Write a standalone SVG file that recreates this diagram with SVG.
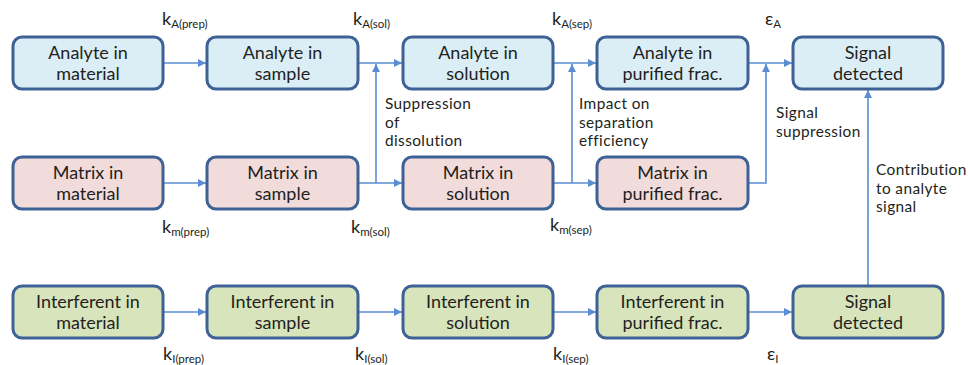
<svg xmlns="http://www.w3.org/2000/svg" width="968" height="365" viewBox="0 0 968 365">
<style>
.box{stroke:#3e6196;stroke-width:3}
.a{fill:#dbeef6}
.m{fill:#f2dcdb}
.i{fill:#d8e4bc}
.t{font-family:Lato,"Open Sans",sans-serif;font-size:18px;fill:#231f20;text-anchor:middle}
.l{font-family:Lato,"Open Sans",sans-serif;font-size:15.4px;letter-spacing:0.4px;fill:#231f20}
.k{font-family:Lato,"Open Sans",sans-serif;font-size:18px;fill:#231f20}
.s{font-size:11.5px}
.c{fill:none;stroke:#5b8dd3;stroke-width:1.6}
</style>
<defs>
<marker id="ar" viewBox="0 0 10 10" refX="10" refY="5" markerWidth="8" markerHeight="8" markerUnits="userSpaceOnUse" orient="auto">
<path d="M0,0 L10,5 L0,10 z" fill="#5b8dd3"/>
</marker>
</defs>
<rect width="968" height="365" fill="#fff"/>
<g id="connectors">
<path class="c" d="M163,63 H206" marker-end="url(#ar)"/>
<path class="c" d="M358,63 H402" marker-end="url(#ar)"/>
<path class="c" d="M553,63 H596" marker-end="url(#ar)"/>
<path class="c" d="M748,63 H792" marker-end="url(#ar)"/>
<path class="c" d="M163,183 H206" marker-end="url(#ar)"/>
<path class="c" d="M358,183 H402" marker-end="url(#ar)"/>
<path class="c" d="M553,183 H596" marker-end="url(#ar)"/>
<path class="c" d="M376,183 V64" marker-end="url(#ar)"/>
<path class="c" d="M572,183 V64" marker-end="url(#ar)"/>
<path class="c" d="M748,183 H766 V64" marker-end="url(#ar)"/>
<path class="c" d="M163,312 H206" marker-end="url(#ar)"/>
<path class="c" d="M358,312 H402" marker-end="url(#ar)"/>
<path class="c" d="M553,312 H596" marker-end="url(#ar)"/>
<path class="c" d="M748,312 H792" marker-end="url(#ar)"/>
<path class="c" d="M868,286 V90" marker-end="url(#ar)"/>
</g>
<g id="n-a1"><rect class="box a" x="13" y="37" width="150" height="52" rx="9"/><text class="t" x="88" y="59">Analyte in</text><text class="t" x="88" y="80">material</text></g>
<g id="n-a2"><rect class="box a" x="207" y="37" width="151" height="52" rx="9"/><text class="t" x="282.5" y="59">Analyte in</text><text class="t" x="282.5" y="80">sample</text></g>
<g id="n-a3"><rect class="box a" x="403" y="37" width="150" height="52" rx="9"/><text class="t" x="478" y="59">Analyte in</text><text class="t" x="478" y="80">solution</text></g>
<g id="n-a4"><rect class="box a" x="597" y="37" width="151" height="52" rx="9"/><text class="t" x="672.5" y="59">Analyte in</text><text class="t" x="672.5" y="80">purified frac.</text></g>
<g id="n-a5"><rect class="box a" x="793" y="37" width="150" height="52" rx="9"/><text class="t" x="868" y="59">Signal</text><text class="t" x="868" y="80">detected</text></g>
<g id="n-m1"><rect class="box m" x="13" y="157" width="150" height="52" rx="9"/><text class="t" x="88" y="179">Matrix in</text><text class="t" x="88" y="200">material</text></g>
<g id="n-m2"><rect class="box m" x="207" y="157" width="151" height="52" rx="9"/><text class="t" x="282.5" y="179">Matrix in</text><text class="t" x="282.5" y="200">sample</text></g>
<g id="n-m3"><rect class="box m" x="403" y="157" width="150" height="52" rx="9"/><text class="t" x="478" y="179">Matrix in</text><text class="t" x="478" y="200">solution</text></g>
<g id="n-m4"><rect class="box m" x="597" y="157" width="151" height="52" rx="9"/><text class="t" x="672.5" y="179">Matrix in</text><text class="t" x="672.5" y="200">purified frac.</text></g>
<g id="n-i1"><rect class="box i" x="13" y="286" width="150" height="52" rx="9"/><text class="t" x="88" y="308">Interferent in</text><text class="t" x="88" y="329">material</text></g>
<g id="n-i2"><rect class="box i" x="207" y="286" width="151" height="52" rx="9"/><text class="t" x="282.5" y="308">Interferent in</text><text class="t" x="282.5" y="329">sample</text></g>
<g id="n-i3"><rect class="box i" x="403" y="286" width="150" height="52" rx="9"/><text class="t" x="478" y="308">Interferent in</text><text class="t" x="478" y="329">solution</text></g>
<g id="n-i4"><rect class="box i" x="597" y="286" width="151" height="52" rx="9"/><text class="t" x="672.5" y="308">Interferent in</text><text class="t" x="672.5" y="329">purified frac.</text></g>
<g id="n-i5"><rect class="box i" x="793" y="286" width="150" height="52" rx="9"/><text class="t" x="868" y="308">Signal</text><text class="t" x="868" y="329">detected</text></g>
<g id="labels">
<text class="k" x="162" y="25">k<tspan class="s" dy="3">A(prep)</tspan></text>
<text class="k" x="353" y="25">k<tspan class="s" dy="3">A(sol)</tspan></text>
<text class="k" x="552" y="25">k<tspan class="s" dy="3">A(sep)</tspan></text>
<text class="k" x="765" y="25">ε<tspan class="s" dy="3">A</tspan></text>
<text class="k" x="162" y="233">k<tspan class="s" dy="3">m(prep)</tspan></text>
<text class="k" x="351" y="233">k<tspan class="s" dy="3">m(sol)</tspan></text>
<text class="k" x="550" y="231">k<tspan class="s" dy="3">m(sep)</tspan></text>
<text class="k" x="163" y="360">k<tspan class="s" dy="3">I(prep)</tspan></text>
<text class="k" x="355" y="360">k<tspan class="s" dy="3">I(sol)</tspan></text>
<text class="k" x="553" y="360">k<tspan class="s" dy="3">I(sep)</tspan></text>
<text class="k" x="767" y="360">ε<tspan class="s" dy="3">I</tspan></text>
<text class="l" x="385" y="109">Suppression</text>
<text class="l" x="385" y="127.7">of</text>
<text class="l" x="385" y="146.4">dissolution</text>
<text class="l" x="579" y="109">Impact on</text>
<text class="l" x="579" y="127.7">separation</text>
<text class="l" x="579" y="146.4">efficiency</text>
<text class="l" x="776" y="118">Signal</text>
<text class="l" x="776" y="136.7">suppression</text>
<text class="l" x="876" y="175">Contribution</text>
<text class="l" x="876" y="193.7">to analyte</text>
<text class="l" x="876" y="212.4">signal</text>
</g>
</svg>
